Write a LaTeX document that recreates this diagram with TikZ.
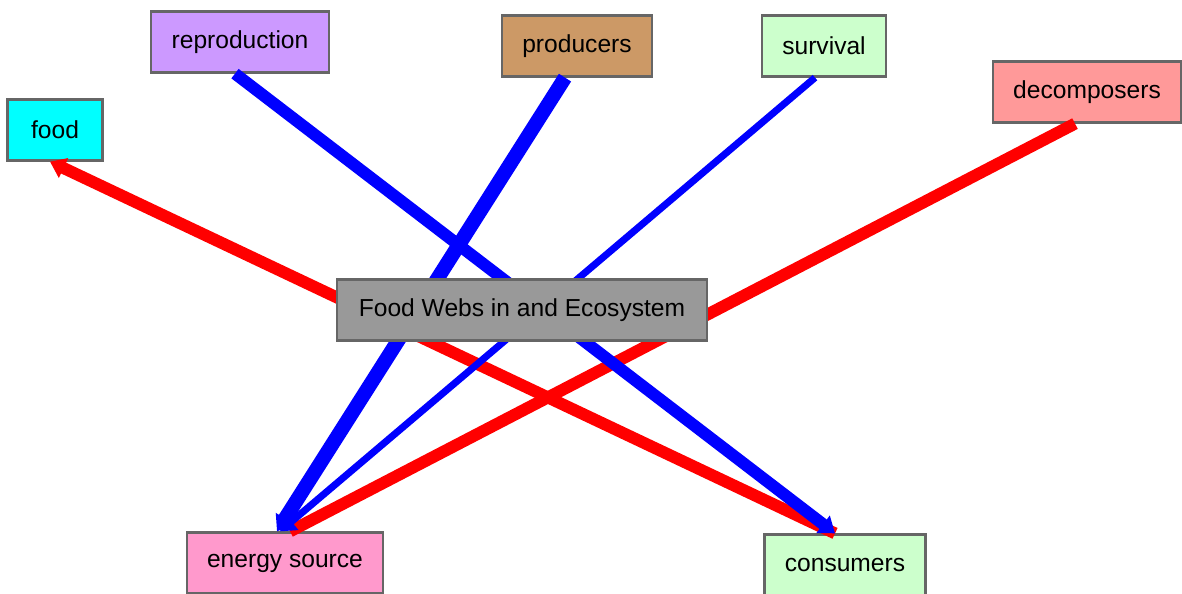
\documentclass[tikz,border=0pt]{standalone}
\usepackage{fontspec}
\setmainfont{Liberation Sans}
\usetikzlibrary{arrows.meta}

\definecolor{foodcol}{HTML}{00FFFF}
\definecolor{reprocol}{HTML}{CC99FF}
\definecolor{prodcol}{HTML}{CC9966}
\definecolor{survcol}{HTML}{CCFFCC}
\definecolor{decocol}{HTML}{FF9999}
\definecolor{energycol}{HTML}{FF99CC}
\definecolor{conscol}{HTML}{CCFFCC}
\definecolor{maincol}{HTML}{999999}
\definecolor{linkred}{HTML}{FF0000}
\definecolor{linkblue}{HTML}{0000FF}

\begin{document}
\begin{tikzpicture}[x=0.02cm, y=-0.02cm,
    concept/.style={draw=black!60, line width=1.3pt, minimum height=1.22cm,
      inner sep=0pt, font=\fontsize{14}{16}\selectfont},
    link/.style={-{Triangle[length=0.3cm, width=0.42cm]}}]
  \useasboundingbox (0,0) rectangle (1182,594);

  % Begriffe
  \node[concept, fill=foodcol, minimum width=1.9cm] (food) at (55,130) {food};
  \node[concept, fill=reprocol, minimum width=3.56cm] (reproduction) at (240,42) {reproduction};
  \node[concept, fill=prodcol, minimum width=3.0cm] (producers) at (577,46) {producers};
  \node[concept, fill=survcol, minimum width=2.48cm] (survival) at (824,46) {survival};
  \node[concept, fill=decocol, minimum width=3.76cm] (decomposers) at (1087,92) {decomposers};
  \node[concept, fill=energycol, minimum width=3.92cm] (energy) at (285,563) {energy source};
  \node[concept, fill=conscol, minimum width=3.22cm] (consumers) at (845,565) {consumers};

  % Verbindungen
  \draw[link, linkred, line width=6.8pt] ([xshift=-0.2cm]consumers.north) -- ([xshift=-0.1cm]food.south);
  \draw[linkred, line width=6.8pt] ([xshift=-0.24cm]decomposers.south) -- ([xshift=0.1cm]energy.north);
  \draw[link, linkblue, line width=6.8pt] ([xshift=-0.1cm]reproduction.south) -- ([xshift=-0.2cm]consumers.north);
  \draw[link, linkblue, line width=8.2pt] ([xshift=-0.24cm]producers.south) -- ([xshift=-0.16cm]energy.north);
  \draw[link, linkblue, line width=4pt] ([xshift=-0.18cm]survival.south) -- ([xshift=-0.1cm]energy.north);

  % Hauptbegriff
  \node[concept, fill=maincol, minimum width=7.4cm] (main) at (522,310) {Food Webs in and Ecosystem};
\end{tikzpicture}
\end{document}
